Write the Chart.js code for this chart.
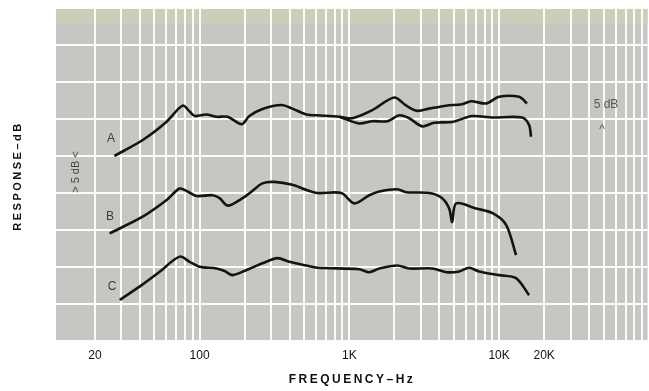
<!DOCTYPE html>
<html>
<head>
<meta charset="utf-8">
<script src="https://cdn.jsdelivr.net/npm/chart.js@4"></script>
<style>
    body { margin: 0; background: #ffffff; }
    #wrap { width: 649px; height: 391px; }
</style>
</head>
<body>
<div id="wrap"><canvas id="responseChart" width="649" height="391"></canvas></div>
<script>
// Curve A (upper branch carries the shared low end)
const aFreq = [27, 42, 60, 77, 86, 93, 111, 130, 154, 191, 215, 263, 352, 417, 517, 612, 858, 1047, 1424, 1995, 2399, 2840, 3415, 4433, 5667, 6505, 8195, 10000, 13600, 15370];
const aDb = [25.0, 27.2, 29.6, 31.8, 31.0, 30.4, 30.6, 30.3, 30.3, 29.3, 30.4, 31.35, 31.9, 31.4, 30.6, 30.5, 30.3, 30.1, 31.2, 32.9, 31.8, 31.1, 31.4, 31.8, 32.0, 32.4, 32.1, 33.0, 33.0, 32.1];
// Curve A lower branch (splits near 1 kHz)
const aLowFreq = [858, 1166, 1424, 1792, 2154, 2512, 3068, 3690, 4861, 6607, 8985, 14230, 15850, 16340];
const aLowDb = [30.3, 29.4, 29.7, 29.7, 30.5, 30.1, 29.0, 29.5, 29.6, 30.4, 30.2, 30.2, 29.2, 27.6];
// Curve B
const bFreq = [25.1, 41.7, 60.3, 73.6, 83.2, 95.5, 122, 136, 154, 185, 215, 263, 316, 417, 517, 612, 885, 1080, 1359, 1585, 2089, 2399, 3415, 4169, 4642, 4861, 5168, 7025, 8985, 11140, 12980];
const bDb = [14.55, 16.8, 19.05, 20.6, 20.2, 19.6, 19.7, 19.3, 18.3, 19.05, 19.96, 21.3, 21.5, 21.1, 20.4, 20.0, 20.0, 18.6, 19.7, 20.2, 20.5, 20.1, 20.0, 19.3, 17.9, 16.1, 18.6, 17.9, 17.3, 15.7, 11.6];
// Curve C
const cFreq = [29.3, 41.7, 54.1, 73.6, 85.8, 100, 130, 147, 166, 206, 263, 331, 398, 517, 612, 1166, 1359, 1585, 2089, 2512, 3577, 4433, 5412, 6310, 7356, 10000, 12980, 15850];
const cDb = [5.54, 7.66, 9.36, 11.4, 10.7, 10.04, 9.8, 9.46, 8.9, 9.6, 10.5, 11.2, 10.7, 10.2, 9.9, 9.7, 9.3, 9.8, 10.2, 9.8, 9.8, 9.3, 9.4, 9.9, 9.4, 8.9, 8.5, 6.2];

// Log paper grid lines and the labelled ticks
const gridFreqs = [20, 30, 40, 50, 60, 70, 80, 90, 100, 200, 300, 400, 500, 600, 700, 800, 900, 1000, 2000, 3000, 4000, 5000, 6000, 7000, 8000, 9000, 10000, 20000, 30000, 40000, 50000, 60000, 70000, 80000, 90000];
const tickValues = [20, 100, 1000, 10000, 20000];
const tickLabels = ['20', '100', '1K', '10K', '20K'];

function toPoints(freqs, dbs) {
    return freqs.map((f, i) => ({ x: f, y: dbs[i] }));
}

function curve(freqs, dbs) {
    return {
        data: toPoints(freqs, dbs),
        borderColor: '#141414',
        borderWidth: 2.6,
        pointRadius: 0,
        tension: 0.3,
        fill: false
    };
}

// Grey paper, header strip and the hand-lettered notes
const paperPlugin = {
    id: 'paper',
    beforeDraw(chart) {
        const { ctx, chartArea: a } = chart;
        ctx.save();
        ctx.fillStyle = '#c6c7c3';
        ctx.fillRect(a.left, a.top, a.right - a.left, a.bottom - a.top);
        ctx.fillStyle = '#cdcdb9';
        ctx.fillRect(a.left, a.top, a.right - a.left, 16);
        ctx.restore();
    },
    afterDraw(chart) {
        const ctx = chart.ctx;
        ctx.save();
        ctx.textAlign = 'center';
        ctx.textBaseline = 'middle';

        ctx.fillStyle = '#3c3c3c';
        ctx.font = '12px "Liberation Sans", sans-serif';
        ctx.fillText('A', 111, 139);
        ctx.fillText('B', 110, 217);
        ctx.fillText('C', 112, 287);

        ctx.fillStyle = '#585858';
        ctx.font = '12px "Liberation Sans", sans-serif';
        ctx.fillText('5 dB', 606, 105);
        ctx.fillText('^', 602, 130);

        // rotated notes on the left
        ctx.save();
        ctx.translate(76, 172);
        ctx.rotate(-Math.PI / 2);
        ctx.fillStyle = '#444444';
        ctx.font = '11px "Liberation Sans", sans-serif';
        ctx.fillText('> 5 dB <', 0, 0);
        ctx.restore();

        ctx.fillStyle = '#111111';
        ctx.font = 'bold 11px "Liberation Sans", sans-serif';
        ctx.letterSpacing = '2.5px';
        ctx.save();
        ctx.translate(18, 176);
        ctx.rotate(-Math.PI / 2);
        ctx.fillText('RESPONSE\u2013dB', 0, 0);
        ctx.restore();

        ctx.font = 'bold 12px "Liberation Sans", sans-serif';
        ctx.fillText('FREQUENCY\u2013Hz', 352, 380);
        ctx.restore();
    }
};

const ctx = document.getElementById('responseChart').getContext('2d');
new Chart(ctx, {
    type: 'line',
    data: {
        datasets: [
            curve(aFreq, aDb),
            curve(aLowFreq, aLowDb),
            curve(bFreq, bDb),
            curve(cFreq, cDb)
        ]
    },
    options: {
        responsive: false,
        animation: false,
        layout: { padding: { left: 56, top: 8, right: 0, bottom: 0 } },
        plugins: {
            legend: { display: false },
            tooltip: { enabled: false }
        },
        scales: {
            x: {
                type: 'logarithmic',
                min: 11,
                max: 98000,
                border: { display: false },
                grid: { color: 'rgba(255,255,255,0.92)', lineWidth: 2, drawTicks: false },
                afterBuildTicks: function(scale) {
                    scale.ticks = gridFreqs.map(v => ({ value: v }));
                },
                afterFit: function(scale) {
                    scale.height = 50;
                },
                ticks: {
                    autoSkip: false,
                    maxRotation: 0,
                    padding: 7,
                    color: '#111111',
                    font: { family: '"Liberation Sans", sans-serif', size: 12 },
                    callback: function(value) {
                        const i = tickValues.indexOf(value);
                        return i >= 0 ? tickLabels[i] : '';
                    }
                }
            },
            y: {
                min: 0,
                max: 45,
                border: { display: false },
                grid: { color: 'rgba(255,255,255,0.92)', lineWidth: 2, drawTicks: false },
                ticks: { display: false, stepSize: 5 },
                afterFit: function(scale) {
                    scale.width = 0;
                }
            }
        }
    },
    plugins: [paperPlugin]
});
</script>
</body>
</html>
